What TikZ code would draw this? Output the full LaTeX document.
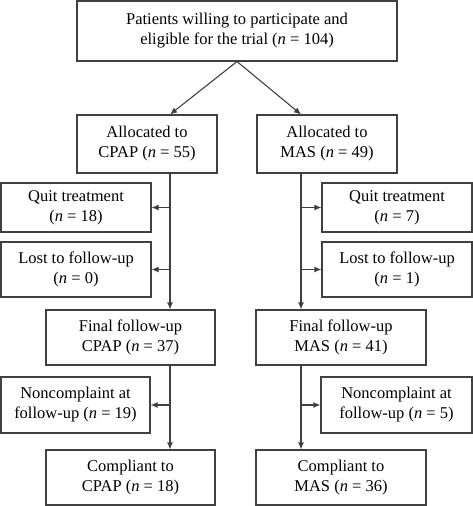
\documentclass[tikz,border=0pt]{standalone}
\usepackage{fontspec}
\setmainfont{Liberation Serif}
\usetikzlibrary{calc}
\usetikzlibrary{arrows.meta}
\definecolor[named]{FlowLine}{gray}{0.25}
\newcommand{\nn}{\textit{n}}
\tikzset{flowbox/.style={
  draw=FlowLine,line width=1.1pt,rectangle,fill=white,
  align=center,inner sep=0pt,font=\fontsize{16.5}{20}\selectfont
}}
\tikzset{flowarrow/.style={
  draw=FlowLine,line width=1.1pt,-{Latex[length=7pt,width=6pt]}
}}

\begin{document}
\begin{tikzpicture}[x=1pt,y=-1pt]
      \path[use as bounding box] (0,0) rectangle (473,506);

      \coordinate (cpapline) at (170,0);
      \coordinate (masline) at (301,0);

      \node[flowbox,minimum width=320,minimum height=60] (enrol) at (237,31)
        {Patients willing to participate and\\eligible for the trial (\nn{} = 104)};

      % CPAP arm
      \node[flowbox,minimum width=140,minimum height=58] (acpap) at (147,144)
        {Allocated to\\CPAP (\nn{} = 55)};
      \node[flowbox,minimum width=150,minimum height=49] (qcpap) at (76,207.5)
        {Quit treatment\\(\nn{} = 18)};
      \node[flowbox,minimum width=150,minimum height=55] (lcpap) at (76,269.5)
        {Lost to follow-up\\(\nn{} = 0)};
      \node[flowbox,minimum width=169,minimum height=55] (fcpap) at (130.5,337.5)
        {Final follow-up\\CPAP (\nn{} = 37)};
      \node[flowbox,minimum width=149,minimum height=56] (ncpap) at (75.5,405)
        {Noncomplaint at\\follow-up (\nn{} = 19)};
      \node[flowbox,minimum width=169,minimum height=55] (ccpap) at (130.5,477.5)
        {Compliant to\\CPAP (\nn{} = 18)};

      % MAS arm
      \node[flowbox,minimum width=140,minimum height=58] (amas) at (327,144)
        {Allocated to\\MAS (\nn{} = 49)};
      \node[flowbox,minimum width=150,minimum height=49] (qmas) at (397,207.5)
        {Quit treatment\\(\nn{} = 7)};
      \node[flowbox,minimum width=150,minimum height=55] (lmas) at (397,269.5)
        {Lost to follow-up\\(\nn{} = 1)};
      \node[flowbox,minimum width=170,minimum height=55] (fmas) at (341,337.5)
        {Final follow-up\\MAS (\nn{} = 41)};
      \node[flowbox,minimum width=151,minimum height=56] (nmas) at (396.5,405)
        {Noncomplaint at\\follow-up (\nn{} = 5)};
      \node[flowbox,minimum width=170,minimum height=55] (cmas) at (341,477.5)
        {Compliant to\\MAS (\nn{} = 36)};

      \draw[flowarrow] (enrol.south) -- (acpap.north -| cpapline);
      \draw[flowarrow] (enrol.south) -- (amas.north -| masline);

      \draw[flowarrow] (acpap.south -| cpapline) -- (fcpap.north -| cpapline);
      \draw[flowarrow] (qcpap.east -| cpapline) -- (qcpap.east);
      \draw[flowarrow] (lcpap.east -| cpapline) -- (lcpap.east);
      \draw[flowarrow] (fcpap.south -| cpapline) -- (ccpap.north -| cpapline);
      \draw[flowarrow] (ncpap.east -| cpapline) -- (ncpap.east);

      \draw[flowarrow] (amas.south -| masline) -- (fmas.north -| masline);
      \draw[flowarrow] (qmas.west -| masline) -- (qmas.west);
      \draw[flowarrow] (lmas.west -| masline) -- (lmas.west);
      \draw[flowarrow] (fmas.south -| masline) -- (cmas.north -| masline);
      \draw[flowarrow] (nmas.west -| masline) -- (nmas.west);
    \end{tikzpicture}
\end{document}
